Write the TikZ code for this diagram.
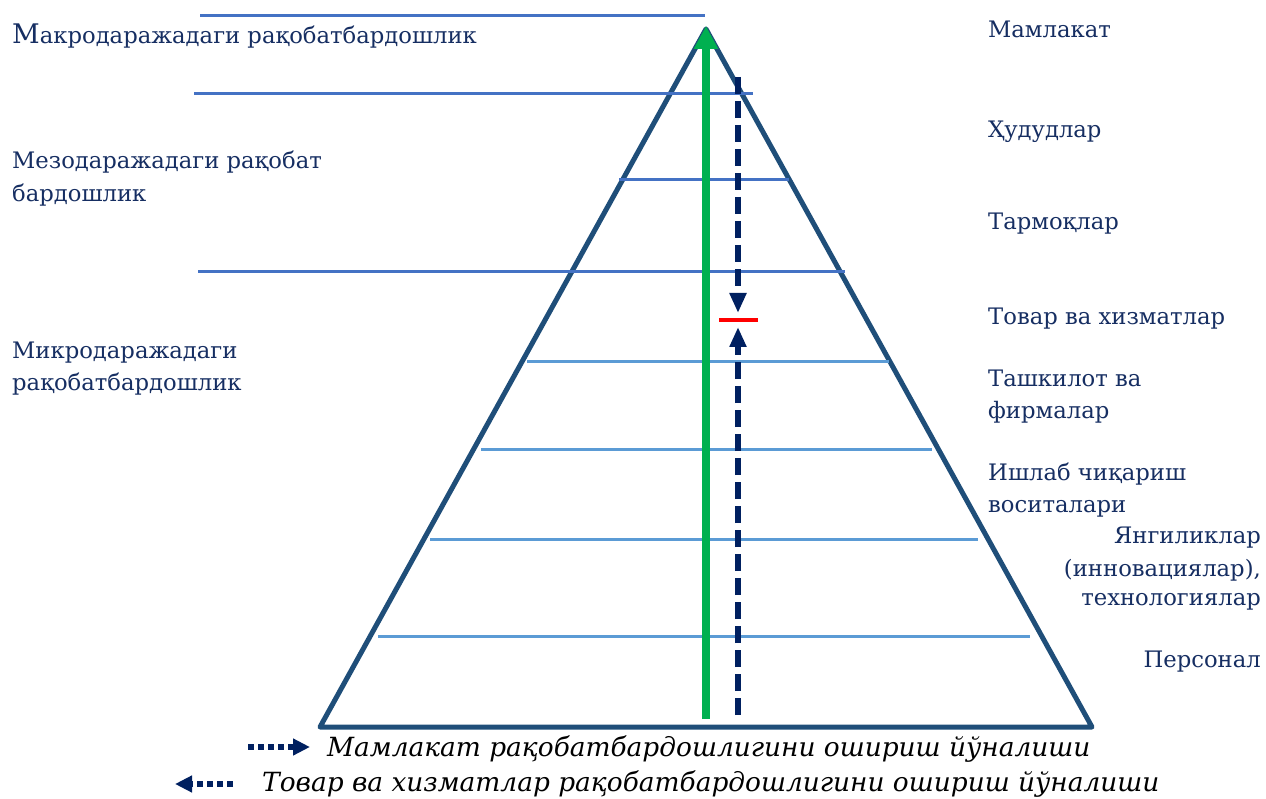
\documentclass[tikz,border=0pt]{standalone}
\usepackage{fontspec}
\setmainfont{DejaVu Serif}
\usetikzlibrary{arrows.meta}
\definecolor{txtblue}{RGB}{22,46,98}
\definecolor{triblue}{RGB}{31,78,121}
\definecolor{lvlblue}{RGB}{68,114,196}
\definecolor{lvllight}{RGB}{91,155,213}
\definecolor{navyblue}{RGB}{0,32,96}
\definecolor{grn}{RGB}{0,176,80}
\tikzset{
  lbl/.style={font=\fontsize{22.7}{32}\selectfont, text=txtblue, inner sep=0pt, align=left},
  lblr/.style={font=\fontsize{22.7}{32}\selectfont, text=txtblue, inner sep=0pt, align=right},
  legtext/.style={font=\fontsize{26.4}{32}\selectfont\itshape, text=black, inner sep=0pt},
  darkline/.style={draw=lvlblue, line width=3pt},
  lightline/.style={draw=lvllight, line width=3pt},
  pyr/.style={draw=triblue, line width=5pt, line join=round},
  uparrow/.style={draw=grn, line width=8pt, -{Triangle[length=23pt,width=23pt]}},
  dasharrow/.style={draw=navyblue, line width=5.5pt, dash pattern=on 17pt off 7pt, -{Triangle[length=20pt,width=16pt]}},
  legarrow/.style={draw=navyblue, line width=6pt, dash pattern=on 6pt off 4pt, -{Triangle[length=17pt,width=16pt]}},
  redmark/.style={draw=red, line width=4pt}
}
\begin{document}
\begin{tikzpicture}[x=1pt,y=-1pt]
\useasboundingbox (0,0) rectangle (1266,799);
% pyramid
\coordinate (apex) at (706,29);
\coordinate (bl) at (320,727);
\coordinate (br) at (1092,727);
\draw[pyr] (bl) -- (apex) -- (br) -- cycle;
% level lines
\coordinate (l1a) at (200,16);  \coordinate (l1b) at (705,16);
\coordinate (l2a) at (194,94);  \coordinate (l2b) at (753,94);
\coordinate (l3a) at (619,180); \coordinate (l3b) at (789,180);
\coordinate (l4a) at (198,272); \coordinate (l4b) at (845,272);
\coordinate (l5a) at (527,362); \coordinate (l5b) at (889,362);
\coordinate (l6a) at (481,449); \coordinate (l6b) at (932,449);
\coordinate (l7a) at (430,539); \coordinate (l7b) at (978,539);
\coordinate (l8a) at (378,636); \coordinate (l8b) at (1030,636);
\draw[darkline] (l1a) -- (l1b);
\draw[darkline] (l2a) -- (l2b);
\draw[darkline] (l3a) -- (l3b);
\draw[darkline] (l4a) -- (l4b);
\draw[lightline] (l5a) -- (l5b);
\draw[lightline] (l6a) -- (l6b);
\draw[lightline] (l7a) -- (l7b);
\draw[lightline] (l8a) -- (l8b);
% arrows
\coordinate (gbot) at (706,719);
\coordinate (gtop) at (706,26);
\draw[uparrow] (gbot) -- (gtop);
\coordinate (dtop) at (738,77);
\coordinate (dtip) at (738,313);
\draw[dasharrow] (dtop) -- (dtip);
\coordinate (ubot) at (738,715);
\coordinate (utip) at (738,327);
\draw[dasharrow] (ubot) -- (utip);
\coordinate (ra) at (719,320);
\coordinate (rb) at (758,320);
\draw[redmark] (ra) -- (rb);
% left labels
\node[lbl, anchor=base west] (macro) at (12,44) {{\fontsize{27}{32}\selectfont М}акродаражадаги рақобатбардошлик};
\node[lbl, anchor=base west] (meso1) at (12,169) {Мезодаражадаги рақобат};
\node[lbl, anchor=base west] (meso2) at (12,202) {бардошлик};
\node[lbl, anchor=base west] (micro1) at (12,359) {Микродаражадаги};
\node[lbl, anchor=base west] (micro2) at (12,391) {рақобатбардошлик};
% right labels
\node[lbl, anchor=base west] (r1) at (988,38) {Мамлакат};
\node[lbl, anchor=base west] (r2) at (988,138) {Ҳудудлар};
\node[lbl, anchor=base west] (r3) at (988,230) {Тармоқлар};
\node[lbl, anchor=base west] (r4) at (988,325) {Товар ва хизматлар};
\node[lbl, anchor=base west] (r5a) at (988,387) {Ташкилот ва};
\node[lbl, anchor=base west] (r5b) at (988,418) {фирмалар};
\node[lbl, anchor=base west] (r6a) at (988,480) {Ишлаб чиқариш};
\node[lbl, anchor=base west] (r6b) at (988,512) {воситалари};
\node[lblr, anchor=base east] (r7a) at (1261,543) {Янгиликлар};
\node[lblr, anchor=base east] (r7b) at (1261,576) {(инновациялар),};
\node[lblr, anchor=base east] (r7c) at (1261,605) {технологиялар};
\node[lblr, anchor=base east] (r8) at (1261,667) {Персонал};
% legend
\coordinate (la1) at (248,747);
\coordinate (la2) at (310,747);
\draw[legarrow] (la1) -- (la2);
\node[legtext, anchor=base west] (leg1) at (327,756) {Мамлакат рақобатбардошлигини ошириш йўналиши};
\coordinate (lb1) at (233,784);
\coordinate (lb2) at (175,784);
\draw[legarrow] (lb1) -- (lb2);
\node[legtext, anchor=base west] (leg2) at (262,791) {Товар ва хизматлар рақобатбардошлигини ошириш йўналиши};
\end{tikzpicture}
\end{document}
